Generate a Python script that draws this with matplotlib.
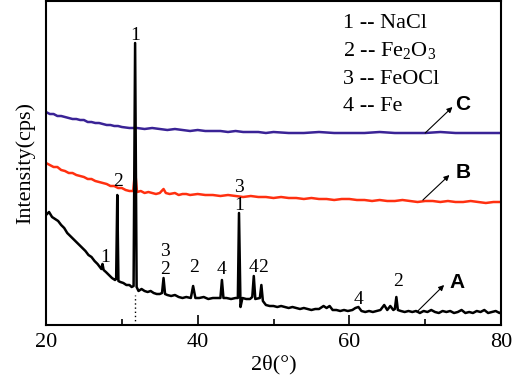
import matplotlib
matplotlib.use("Agg")
import matplotlib.pyplot as plt
from matplotlib.ticker import MultipleLocator

plt.rcParams['font.family'] = ['Liberation Serif', 'DejaVu Serif']
plt.rcParams['mathtext.fontset'] = 'custom'
plt.rcParams['mathtext.rm'] = 'Liberation Serif'
plt.rcParams['mathtext.it'] = 'Liberation Serif:italic'

# ---- data (2theta, intensity in arbitrary units) ----
a_x = [20.0, 20.4, 20.8, 21.2, 21.6, 22.0, 22.4, 22.8, 23.2, 23.6, 24.0, 24.4, 24.8, 25.2, 25.6, 26.0,
       26.4, 26.8, 27.1, 27.3, 27.45, 27.6, 27.9, 28.3, 28.7, 29.1, 29.25, 29.4, 29.55, 29.8, 30.2, 30.6,
       31.0, 31.3, 31.55, 31.75, 31.95, 32.2, 32.6, 33.0, 33.4, 33.8, 34.2, 34.6, 35.0, 35.3, 35.5, 35.7,
       36.0, 36.5, 37.0, 37.5, 38.0, 38.5, 39.1, 39.4, 39.7, 40.2, 40.8, 41.4, 42.0, 42.6, 43.0, 43.2,
       43.4, 43.8, 44.4, 45.0, 45.3, 45.45, 45.65, 45.9, 46.4, 46.9, 47.2, 47.4, 47.6, 48.2, 48.4, 48.6,
       49.0, 49.5, 50.0, 50.5, 51.0, 51.5, 52.0, 52.5, 53.0, 53.5, 54.0, 54.5, 55.0, 55.5, 56.0, 56.6,
       57.0, 57.4, 57.8, 58.3, 58.8, 59.3, 59.8, 60.4, 60.8, 61.2, 61.6, 62.1, 62.6, 63.1, 63.6, 64.1,
       64.6, 65.0, 65.4, 65.8, 66.0, 66.2, 66.4, 66.8, 67.3, 67.8, 68.3, 68.8, 69.3, 69.8, 70.3, 70.8,
       71.3, 71.8, 72.3, 72.8, 73.3, 73.8, 74.3, 74.8, 75.3, 75.8, 76.3, 76.8, 77.3, 77.8, 78.3, 78.8,
       79.3, 79.8, 80.0]
a_y = [110, 113, 108, 106, 104, 100, 97, 92, 89, 86, 83, 80, 77, 74, 70, 68,
       64, 61, 58, 56, 61, 55, 53, 50, 47, 45, 46, 130, 44, 43, 42, 40,
       40, 38, 39, 282, 38, 34, 36, 34, 33, 34, 32, 31, 31, 32, 47, 31,
       30, 29, 30, 28, 27, 28, 27, 39, 27, 27, 28, 26, 27, 27, 27, 45,
       27, 27, 26, 27, 27, 112, 18, 27, 26, 26, 28, 49, 26, 27, 40, 24,
       20, 19, 19, 18, 19, 18, 17, 18, 17, 16, 17, 16, 15, 16, 16, 19,
       17, 19, 15, 15, 14, 15, 14, 15, 17, 18, 14, 13, 14, 13, 14, 15,
       20, 15, 19, 15, 16, 28, 15, 14, 13, 14, 13, 14, 12, 14, 13, 15,
       13, 12, 14, 13, 14, 12, 13, 15, 12, 13, 12, 14, 13, 15, 12, 13,
       14, 12, 13]

b_x = [20.0, 20.5, 21.0, 21.5, 22.0, 22.5, 23.0, 23.5, 24.0, 24.5, 25.0, 25.5, 26.0, 26.5, 27.0, 27.5,
       28.0, 28.5, 29.0, 29.5, 30.0, 30.5, 31.0, 31.5, 31.75, 32.0, 32.5, 33.0, 33.5, 34.0, 34.5, 35.0,
       35.5, 35.8, 36.3, 37.0, 37.5, 38.0, 38.5, 39.0, 40.0, 41.0, 42.0, 43.0, 44.0, 45.0, 46.0, 47.0,
       48.0, 49.0, 50.0, 51.0, 52.0, 53.0, 54.0, 55.0, 56.0, 57.0, 58.0, 59.0, 60.0, 61.0, 62.0, 63.0,
       64.0, 65.0, 66.0, 67.0, 68.0, 69.0, 70.0, 71.0, 72.0, 73.0, 74.0, 75.0, 76.0, 77.0, 78.0, 79.0, 80.0]
b_y = [162, 160, 158, 158, 155, 154, 152, 152, 150, 149, 148, 146, 146, 144, 143, 142,
       141, 139, 139, 137, 137, 135, 134, 134, 155, 133, 134, 132, 133, 132, 131, 132,
       136, 132, 131, 132, 130, 131, 131, 130, 131, 130, 130, 129, 130, 129, 128, 129,
       128, 128, 127, 128, 127, 127, 126, 127, 126, 126, 125, 126, 126, 125, 125, 124,
       125, 124, 124, 125, 124, 123, 124, 124, 123, 124, 123, 123, 124, 123, 122, 123, 123]

c_x = [20.0, 20.5, 21.0, 21.5, 22.0, 22.5, 23.0, 23.5, 24.0, 24.5, 25.0, 25.5, 26.0, 26.5, 27.0, 27.5,
       28.0, 28.5, 29.0, 29.5, 30.0, 31.0, 32.0, 33.0, 34.0, 35.0, 36.0, 37.0, 38.0, 39.0, 40.0, 41.0,
       42.0, 43.0, 44.0, 45.0, 46.0, 47.0, 48.0, 49.0, 50.0, 52.0, 54.0, 56.0, 58.0, 60.0, 62.0, 64.0,
       66.0, 68.0, 70.0, 72.0, 74.0, 76.0, 78.0, 80.0]
c_y = [213, 211, 211, 209, 209, 208, 207, 206, 206, 205, 205, 203, 203, 202, 202, 201,
       200, 200, 199, 199, 198, 197, 197, 196, 197, 196, 195, 196, 195, 194, 195, 194,
       194, 194, 193, 194, 193, 193, 193, 192, 193, 192, 192, 193, 192, 192, 192, 193,
       192, 192, 192, 193, 192, 192, 192, 192]

legend_lines = ["1 -- NaCl", "2 -- Fe$_2$O$_3$", "3 -- FeOCl", "4 -- Fe"]
legend_y = [297, 269, 241, 214]

# peak labels: (text, 2theta, intensity)
peak_labels = [("1", 31.75, 290), ("2", 29.5, 144), ("1", 27.8, 68),
               ("3", 35.7, 73), ("2", 35.7, 56), ("2", 39.5, 57), ("4", 43.2, 55),
               ("3", 45.5, 138), ("1", 45.5, 119), ("4", 47.4, 57), ("2", 48.6, 57),
               ("4", 61.2, 26), ("2", 66.4, 43)]

curve_names = ["A", "B", "C"]
name_pos = [(74.2, 42), (75.0, 153), (75.0, 220)]
arrow_tail = [(68.9, 13), (69.7, 125), (70.0, 192)]
arrow_head = [(72.5, 40), (73.2, 150), (73.6, 218)]

# ---- figure ----
fig = plt.figure(figsize=(5.12, 3.76), dpi=100)
ax = fig.add_axes([46/512, 51/376, 455/512, 324/376])

ax.plot(c_x, c_y, color="#3a2396", lw=1.8, zorder=2)
ax.plot(b_x, b_y, color="#ff3010", lw=1.8, zorder=2)
ax.plot(a_x, a_y, color="black", lw=1.8, zorder=3)
ax.plot([31.75, 31.75], [0, 30], color="black", lw=1, ls=(0, (1, 2)))

ax.set_xlim(20, 80)
ax.set_ylim(0, 324)
ax.xaxis.set_major_locator(MultipleLocator(20))
ax.xaxis.set_minor_locator(MultipleLocator(10))
ax.tick_params(axis='x', which='major', direction='in', length=7, width=1.2, labelsize=16, pad=6)
ax.tick_params(axis='x', which='minor', direction='in', length=4, width=1.2)
ax.set_yticks([])
for s in ax.spines.values():
    s.set_linewidth(1.5)

ax.set_xlabel("2θ(°)", fontsize=16, labelpad=2)
ax.set_ylabel("Intensity(cps)", fontsize=16, labelpad=8)

for txt, yy in zip(legend_lines, legend_y):
    ax.text(59.2, yy, txt, fontsize=16, ha='left', va='baseline')

for txt, xx, yy in peak_labels:
    ax.text(xx, yy, txt, fontsize=14, ha='center', va='center')

for name, pos, tail, head in zip(curve_names, name_pos, arrow_tail, arrow_head):
    ax.annotate("", xy=head, xytext=tail,
                arrowprops=dict(arrowstyle="-|>", color="black", lw=0.8,
                                mutation_scale=8, shrinkA=0, shrinkB=0))
    ax.text(pos[0], pos[1], name, fontsize=15, fontweight='bold',
            family=['Liberation Sans', 'DejaVu Sans'], ha='center', va='center')

fig.savefig("out.png", dpi=100)
